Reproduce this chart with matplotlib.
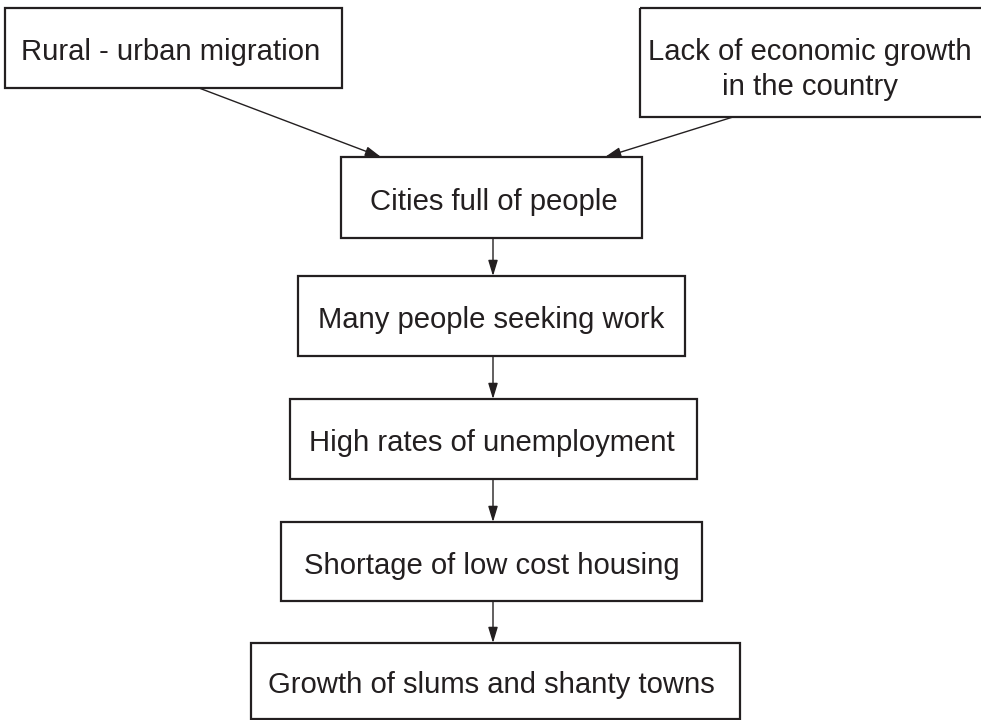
import matplotlib
matplotlib.use("Agg")
import matplotlib.pyplot as plt
from matplotlib.patches import Rectangle

plt.rcParams['font.family'] = ['Liberation Sans', 'DejaVu Sans']

# Flowchart content
labels = [
    "Rural - urban migration",
    "Lack of economic growth\nin the country",
    "Cities full of people",
    "Many people seeking work",
    "High rates of unemployment",
    "Shortage of low cost housing",
    "Growth of slums and shanty towns",
]
# box layout in pixel units: (left, top, right, bottom)
boxes = [
    (5, 8, 342, 88),
    (640, 8, 985, 117),
    (341, 157, 642, 238),
    (298, 276, 685, 356),
    (290, 399, 697, 479),
    (281, 522, 702, 601),
    (251, 643, 740, 719),
]
# text anchor: (centre x, first baseline y) in pixel units
text_pos = [
    (171, 60),
    (809.5, 60),
    (493.5, 209.5),
    (491.5, 328),
    (491.5, 451),
    (491.5, 573.5),
    (491, 693),
]
line_gap = 35
# arrows: (start_xy, end_xy)
arrows = [
    ((199, 88), (381, 157)),
    ((733, 117), (605, 157)),
    ((493, 238), (493, 276)),
    ((493, 356), (493, 399)),
    ((493, 479), (493, 522)),
    ((493, 601), (493, 643)),
]

W, H = 981, 720
fig = plt.figure(figsize=(W / 100, H / 100), dpi=100)
ax = fig.add_axes([0, 0, 1, 1])
ax.set_xlim(0, W)
ax.set_ylim(H, 0)
ax.axis('off')

ink = '#231f20'
for lab, (l, t, r, b), (tx, ty) in zip(labels, boxes, text_pos):
    ax.add_patch(Rectangle((l, t), r - l, b - t, fill=False, edgecolor=ink, linewidth=1.6))
    for i, line in enumerate(lab.split("\n")):
        ax.text(tx, ty + i * line_gap, line, ha='center', va='baseline',
                fontsize=21.1, color=ink)

for (s, e) in arrows:
    ax.annotate("", xy=e, xytext=s,
                arrowprops=dict(arrowstyle='-|>,head_length=0.95,head_width=0.29',
                                color=ink, lw=1.0, shrinkA=0, shrinkB=0))

fig.savefig("out.png", dpi=100)
